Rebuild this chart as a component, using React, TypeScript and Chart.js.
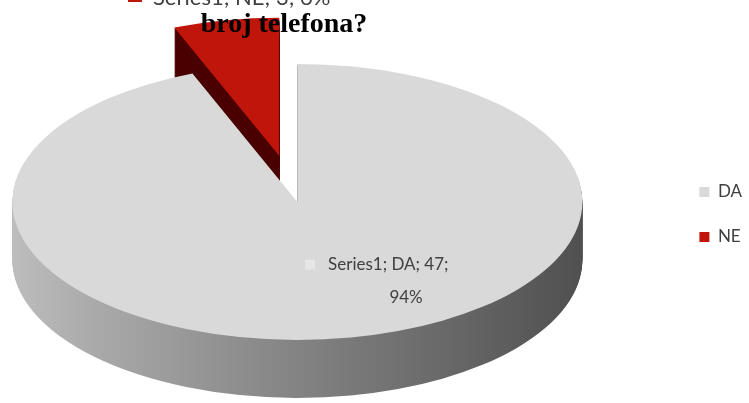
import React, { useEffect, useRef } from 'react';
import { Chart, registerables } from 'chart.js';

Chart.register(...registerables);

const seriesName = 'Series1';
const categories = ['DA', 'NE'];
const counts = [47, 3];
const topColors = ['#d9d9d9', '#c0150a'];
const neSideColor = '#4a0000';
const explodeFractions = [0, 0.34];
const titleText = 'broj telefona?';

export default function App() {
  const ref = useRef<HTMLCanvasElement>(null);

  useEffect(() => {
    const canvas = ref.current;
    if (!canvas) return;
    const total = counts.reduce((a, b) => a + b, 0);
    const pct = counts.map((c) => Math.round((c / total) * 100) + '%');

    const geom = (chart: any) => {
      const W = chart.width;
      const H = chart.height;
      return { tx: W * 0.397, ty: H * 0.501, rx: W * 0.3805, ry: H * 0.3425, depth: 58 };
    };

    const getFrame = (chart: any) => {
      const meta = chart.getDatasetMeta(0);
      const base: any = meta.data[0];
      const g = geom(chart);
      const R = base.outerRadius;
      return { meta, cx: base.x, cy: base.y, R, sx: g.rx / R, sy: g.ry / R, g };
    };

    const pie3d = {
      id: 'pie3d',
      beforeDatasetsDraw(chart: any) {
        const f = getFrame(chart);
        const ctx = chart.ctx as CanvasRenderingContext2D;
        const arcs: any[] = f.meta.data;
        const place = (dy: number, arc: any, i: number) => {
          ctx.translate(f.g.tx, f.g.ty + dy);
          ctx.scale(f.sx, f.sy);
          ctx.translate(-f.cx, -f.cy);
          const e = (explodeFractions[i] || 0) * f.R;
          if (e) {
            const mid = (arc.startAngle + arc.endAngle) / 2;
            ctx.translate(Math.cos(mid) * e, Math.sin(mid) * e);
          }
        };
        const drawWith = (arc: any, overrides: any) => {
          const orig = arc.options;
          arc.options = { ...orig, ...overrides };
          arc.draw(ctx);
          arc.options = orig;
        };
        const order = arcs.map((_, i) => i).reverse();
        for (const i of order) {
          const arc = arcs[i];
          let side: any = neSideColor;
          if (i === 0) {
            const grad = ctx.createLinearGradient(f.cx - f.R, 0, f.cx + f.R, 0);
            grad.addColorStop(0, '#bdbdbd');
            grad.addColorStop(0.15, '#a9a9a9');
            grad.addColorStop(0.5, '#838383');
            grad.addColorStop(0.85, '#5f5f5f');
            grad.addColorStop(1, '#505050');
            side = grad;
          }
          for (let k = f.g.depth; k >= 1; k--) {
            ctx.save();
            place(k, arc, i);
            drawWith(arc, { backgroundColor: side, borderWidth: 0 });
            ctx.restore();
          }
          ctx.save();
          place(0, arc, i);
          drawWith(arc, { borderWidth: 0 });
          ctx.restore();
        }
        return false;
      },
      afterDraw(chart: any) {
        const f = getFrame(chart);
        const ctx = chart.ctx as CanvasRenderingContext2D;
        const da: any = f.meta.data[0];
        const tp = da.tooltipPosition(true);
        const ax = f.g.tx + (tp.x - f.cx) * f.sx;
        const ay = f.g.ty + (tp.y - f.cy) * f.sy;

        ctx.save();
        // DA data label
        ctx.fillStyle = '#e6e6e6';
        ctx.fillRect(ax - 19, ay - 10, 10, 10);
        ctx.fillStyle = '#404040';
        ctx.font = '17px Lato';
        ctx.textBaseline = 'middle';
        ctx.textAlign = 'left';
        ctx.fillText(`${seriesName}; ${categories[0]}; ${counts[0]};`, ax + 4, ay - 5);
        ctx.textAlign = 'center';
        ctx.fillText(pct[0], ax + 82, ay + 28);

        // NE data label (cut at top)
        ctx.fillStyle = topColors[1];
        ctx.fillRect(128, -12, 14, 14);
        ctx.fillStyle = '#404040';
        ctx.font = '22px Lato';
        ctx.textAlign = 'left';
        ctx.textBaseline = 'alphabetic';
        ctx.fillText(`${seriesName}; ${categories[1]}; ${counts[1]}; ${pct[1]}`, 153, 5);

        // Title
        ctx.fillStyle = '#000000';
        ctx.font = 'bold 28px "Liberation Serif"';
        ctx.textAlign = 'center';
        ctx.fillText(titleText, 284, 32);
        ctx.restore();
      },
    };

    const chart = new Chart(canvas, {
      type: 'pie',
      data: {
        labels: categories,
        datasets: [
          {
            label: seriesName,
            data: counts,
            backgroundColor: topColors,
            borderWidth: 0,
            hoverOffset: 0,
          },
        ],
      },
      options: {
        responsive: false,
        animation: false,
        events: [],
        radius: 100,
        layout: { padding: { top: 26, right: -3, bottom: 0, left: 0 } },
        plugins: {
          legend: {
            position: 'right',
            labels: {
              boxWidth: 10,
              boxHeight: 10,
              padding: 28,
              color: '#404040',
              font: { family: 'Lato', size: 17 },
            },
          },
          tooltip: { enabled: false },
          title: { display: false },
        },
      } as any,
      plugins: [pie3d],
    });
    return () => chart.destroy();
  }, []);

  return (
    <div style={{ position: 'fixed', left: 0, top: 0, width: 749, height: 403, background: '#ffffff' }}>
      <canvas ref={ref} width={749} height={403} style={{ display: 'block', width: 749, height: 403 }} />
    </div>
  );
}
